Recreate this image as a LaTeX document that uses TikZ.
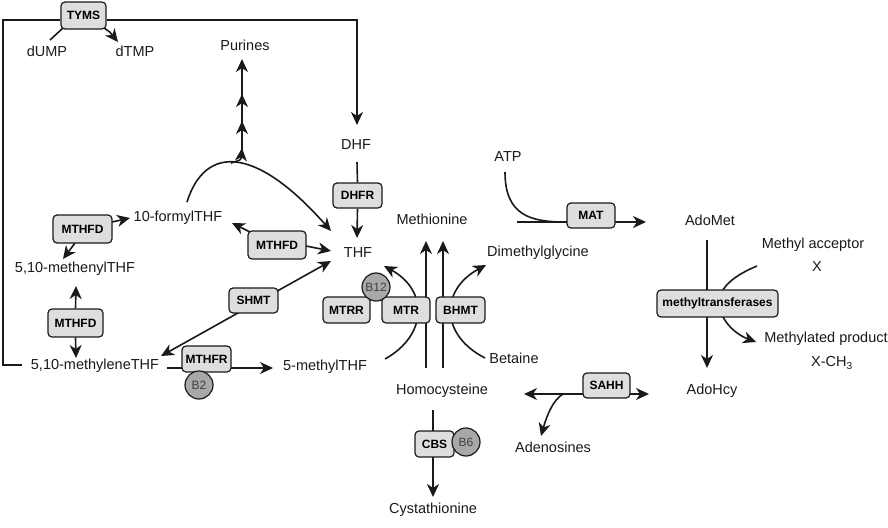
\documentclass[tikz,border=0pt]{standalone}
\usepackage{fontspec}
\setmainfont{Liberation Sans}
\usetikzlibrary{arrows.meta}
\definecolor{boxfill}{HTML}{DEDEDE}
\definecolor{circfill}{HTML}{A8A8A8}
\definecolor{ink}{HTML}{1A1A1A}
\pgfdeclarelayer{bg}
\pgfsetlayers{bg,main}
\begin{document}
\begin{tikzpicture}[x=1pt,y=-1pt,
  conn/.style={draw=ink, line width=1.6pt},
  tipx/.tip={Stealth[length=13pt,width=12pt,inset=4pt]},
  arr/.style={conn, -tipx},
  darr/.style={conn, tipx-tipx},
  enz/.style={draw=ink, line width=1.2pt, rounded corners=4pt, fill=boxfill,
    font=\fontsize{12}{14}\selectfont\bfseries, inner sep=0pt, minimum height=26pt},
  met/.style={font=\fontsize{14.5}{16}\selectfont, inner sep=1pt, text=ink},
  vit/.style={circle, draw=ink, line width=1.2pt, fill=circfill, minimum size=28pt,
    inner sep=0pt, font=\fontsize{12}{14}\selectfont, text=black!75}]
\useasboundingbox (0,0) rectangle (888,527);

% enzyme boxes
\node[enz, minimum width=45pt, minimum height=27pt] (tyms) at (83.5,15.5) {TYMS};
\node[enz, minimum width=49pt, minimum height=25pt] (dhfr) at (357.5,195.5) {DHFR};
\node[enz, minimum width=59pt, minimum height=28pt] (mthfda) at (82.5,229) {MTHFD};
\node[enz, minimum width=58pt, minimum height=28pt] (mthfdb) at (277,245) {MTHFD};
\node[enz, minimum width=55pt, minimum height=28pt] (mthfdc) at (75.5,323) {MTHFD};
\node[enz, minimum width=49pt, minimum height=25pt] (shmt) at (253.5,300.5) {SHMT};
\node[enz, minimum width=49pt, minimum height=26pt] (mthfr) at (206.5,359) {MTHFR};
\node[enz, minimum width=47pt, minimum height=26pt] (mtrr) at (346.5,310) {MTRR};
\node[enz, minimum width=48pt, minimum height=26pt] (mtr) at (406,310) {MTR};
\node[enz, minimum width=49pt, minimum height=26pt] (bhmt) at (460.5,310) {BHMT};
\node[enz, minimum width=48pt, minimum height=25pt] (mat) at (591,215.5) {MAT};
\node[enz, minimum width=121pt, minimum height=27pt] (mtase) at (717.5,303.5) {methyltransferases};
\node[enz, minimum width=47pt, minimum height=25pt] (sahh) at (606.5,385.5) {SAHH};
\node[enz, minimum width=39pt, minimum height=26pt] (cbs) at (434.5,444) {CBS};

% vitamins
\node[vit] (b12) at (376,287) {B12};
\node[vit] (b2) at (199,385) {B2};
\node[vit] (b6) at (466,442) {B6};

% metabolites
\node[met] (dump) at (47,51) {dUMP};
\node[met] (dtmp) at (135,51) {dTMP};
\node[met] (purines) at (245,45) {Purines};
\node[met] (dhf) at (356,145) {DHF};
\node[met] (formyl) at (178,218) {10-formylTHF};
\node[met] (methenyl) at (75,269) {5,10-methenylTHF};
\node[met] (thf) at (358,253) {THF};
\node[met] (met) at (432,219) {Methionine};
\node[met] (atp) at (508,157) {ATP};
\node[met] (adomet) at (710,220) {AdoMet};
\node[met] (dmg) at (538,253) {Dimethylglycine};
\node[met] (macc) at (813,245) {Methyl acceptor};
\node[met] (x) at (817,267) {X};
\node[met] (methylene) at (95,366) {5,10-methyleneTHF};
\node[met] (methyl) at (325,367) {5-methylTHF};
\node[met] (betaine) at (514,358) {Betaine};
\node[met] (hcy) at (442,391) {Homocysteine};
\node[met] (mprod) at (826,339) {Methylated product};
\node[met] (xch) at (832,363) {X-CH\textsubscript{3}};
\node[met] (adohcy) at (712,391) {AdoHcy};
\node[met] (ado) at (553,447) {Adenosines};
\node[met] (cys) at (433,510) {Cystathionine};

\begin{pgfonlayer}{bg}
\fill[white] (0,0) rectangle (888,527);
% folate / thymidylate frame
\coordinate (fl) at (22,365);
\draw[conn] (fl) -- (3,365) -- (3,20) -- (tyms.west |- 0,20);
\draw[arr] (tyms.east |- 0,20) -- (357,20) -- (357,125);
\draw[conn] (50,40) -- (63,28);
\draw[arr] (104,28) .. controls (110,32) .. (118,42);
% DHF -> THF
\draw[conn] (357,162) -- (dhfr.north);
\draw[arr] (dhfr.south) -- (357,238);
% MTHFD reactions
\draw[arr] (112,222) -- (130,218);
\draw[arr] (75,243) -- (63,259);
\draw[arr] (258,236) -- (232,223);
\draw[arr] (306,246) -- (331,251);
\draw[arr] (mthfdc.north) -- (76,286);
\draw[arr] (mthfdc.south) -- (76,358);
% formyl -> THF and purines
\draw[arr] (187,202) .. controls (205,145) and (255,145) .. (331,231);
\draw[arr] (231,163) .. controls (241,160) .. (242,148);
\draw[arr] (242,150) -- (242,121);
\draw[arr] (242,123) -- (242,94);
\draw[arr] (242,96) -- (242,59);
% SHMT, MTHFR
\draw[darr] (161,356) -- (331,261);
\draw[arr] (167,368) -- (273,368);
% MTR, BHMT
\draw[arr] (426,368) -- (426,241);
\draw[arr] (443,368) -- (443,241);
\draw[arr] (385,359) .. controls (428,335) and (428,290) .. (384,266);
\draw[arr] (485,358) .. controls (440,335) and (440,290) .. (486,265);
% MAT
\draw[arr] (517,222) -- (646,222);
\draw[conn] (505,172) .. controls (505,215) and (530,222) .. (565,222);
% methyltransferases
\draw[arr] (707,240) -- (707,368);
\draw[conn] (757,266) .. controls (735,275) and (725,285) .. (722,292);
\draw[arr] (722,315) .. controls (728,328) and (740,336) .. (756,342);
% SAHH
\draw[darr] (524,394) -- (649,394);
\draw[arr] (563,394) .. controls (553,400) and (547,415) .. (541,436);
% CBS
\draw[arr] (433,410) -- (433,497);
\end{pgfonlayer}
\end{tikzpicture}
\end{document}
